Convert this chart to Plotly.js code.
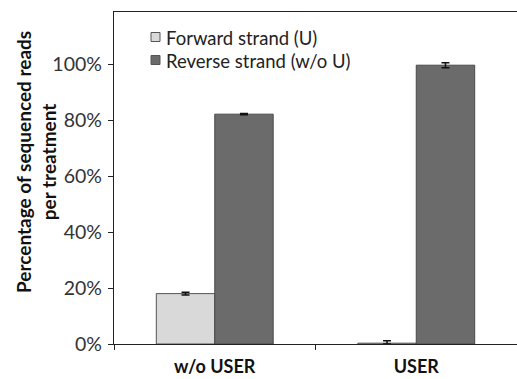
<!DOCTYPE html>
<html><head><meta charset="utf-8">
<script src="https://cdn.plot.ly/plotly-3.0.1.min.js"></script>
<style>html,body{margin:0;padding:0;background:#fff}</style>
</head><body>
<div id="chart" style="width:517px;height:379px"></div>
<script>
const categories = ["w/o USER", "USER"];
const forwardValues = [0.18, 0.003];
const forwardErrPlus = [0.005, 0.009];
const forwardErrMinus = [0.005, 0.003];
const reverseValues = [0.821, 0.996];
const reverseErr = [0.002, 0.009];
const seriesNames = ["Forward strand (U)", "Reverse strand (w/o U)"];
const seriesColors = ["#d9d9d9", "#6b6b6b"];
const yTickVals = [0, 0.2, 0.4, 0.6, 0.8, 1.0];
const yTickText = ["0%", "20%", "40%", "60%", "80%", "100%"];
const yTitleLines = ["Percentage of sequenced reads", "per treatment"];

const FONT = "Lato, 'Open Sans', sans-serif";
const traces = [
  {type: "bar", name: seriesNames[0], x: categories, y: forwardValues, showlegend: false,
   marker: {color: seriesColors[0], line: {color: "#555555", width: 1}},
   error_y: {type: "data", symmetric: false, array: forwardErrPlus, arrayminus: forwardErrMinus, color: "#111", thickness: 1.5, width: 4}},
  {type: "bar", name: seriesNames[1], x: categories, y: reverseValues, showlegend: false,
   marker: {color: seriesColors[1], line: {color: "#4a4a4a", width: 1}},
   error_y: {type: "data", array: reverseErr, color: "#111", thickness: 1.5, width: 4}}
];

// manual legend (paper coords: plot x 114..517, y 344..12)
const L = 114, W = 403, B = 344, H = 332;
const px = v => (v - L) / W, py = v => (B - v) / H;
const legendRows = [37, 60];
const shapes = seriesNames.map((n, i) => ({
  type: "rect", xref: "paper", yref: "paper",
  x0: px(151), x1: px(160), y0: py(legendRows[i] + 4.5), y1: py(legendRows[i] - 4.5),
  fillcolor: seriesColors[i], line: {color: "#555", width: 1}
}));
const annotations = seriesNames.map((n, i) => ({
  xref: "paper", yref: "paper", x: px(164), y: py(legendRows[i] + 1), xanchor: "left", yanchor: "middle",
  text: n, showarrow: false, font: {size: 18.5, color: "#222", family: FONT}
}));
annotations.push({
  xref: "paper", yref: "paper", x: px(36), y: py(162), xanchor: "center", yanchor: "middle",
  textangle: -90, showarrow: false, align: "center",
  text: "<b>" + yTitleLines.join("<br>") + "</b>",
  font: {size: 19, color: "#111", family: FONT}
});

const layout = {
  width: 517, height: 379,
  margin: {l: 114, r: 0, t: 12, b: 35, pad: 0},
  paper_bgcolor: "#fff", plot_bgcolor: "#fff",
  barmode: "group", bargap: 0.42, bargroupgap: 0,
  font: {family: FONT, color: "#333"},
  showlegend: false,
  shapes: shapes, annotations: annotations,
  xaxis: {type: "category", range: [-0.5, 1.5], showline: true, linecolor: "#222", linewidth: 1.2,
          mirror: true, ticks: "outside", tickson: "boundaries", ticklen: 5, tickcolor: "#222",
          showgrid: false, zeroline: false, ticklabelstandoff: 6,
          tickfont: {size: 18, color: "#111", family: FONT, weight: "bold"}},
  yaxis: {range: [0, 1.186], showline: true, linecolor: "#222", linewidth: 1.2, ticks: "outside",
          ticklen: 5, tickcolor: "#222", tickvals: yTickVals, ticktext: yTickText,
          showgrid: false, zeroline: false, ticklabelstandoff: 2,
          tickfont: {size: 19.5, color: "#333", family: FONT}}
};
Plotly.newPlot("chart", traces, layout, {displayModeBar: false, staticPlot: true});
</script>
</body></html>
